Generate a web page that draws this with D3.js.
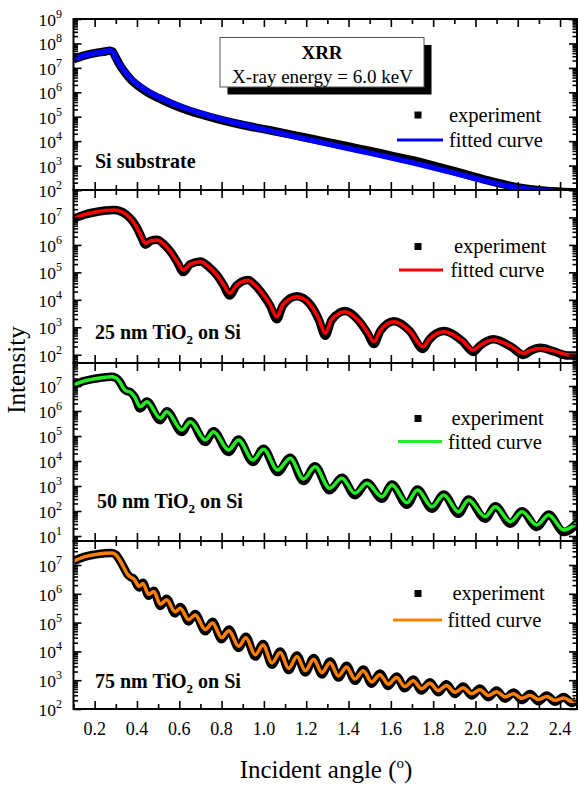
<!DOCTYPE html>
<html><head><meta charset="utf-8">
<script src="https://cdn.jsdelivr.net/npm/d3@7"></script>
<style>body{margin:0;background:#fff}svg{display:block}</style>
</head><body>
<svg id="c" width="578" height="785"></svg>
<script>
// ---------------- data (intensities as log10 exponents) ----------------
const xDomain = [0.1, 2.48];
const xTickLabels = [0.2,0.4,0.6,0.8,1.0,1.2,1.4,1.6,1.8,2.0,2.2,2.4];
const xMinorTicks = [0.1,0.3,0.5,0.7,0.9,1.1,1.3,1.5,1.7,1.9,2.1,2.3];

const siAngle = [0.10,0.15,0.20,0.25,0.27,0.285,0.30,0.32,0.34,0.37,0.40,0.45,0.50,0.60,0.70,0.80,0.90,1.00,1.10,1.20,1.30,1.40,1.50,1.60,1.70,1.80,1.90,2.00,2.10,2.20,2.30,2.40,2.48];
const siFit   = [7.35,7.50,7.60,7.67,7.70,7.66,7.42,7.12,6.88,6.57,6.35,6.05,5.82,5.44,5.15,4.90,4.68,4.48,4.28,4.08,3.89,3.70,3.51,3.32,3.12,2.91,2.69,2.47,2.26,2.09,1.98,1.93,1.90];
const siExp   = [7.35,7.50,7.60,7.67,7.70,7.66,7.42,7.10,6.85,6.53,6.30,6.00,5.77,5.39,5.10,4.86,4.66,4.49,4.32,4.14,3.96,3.78,3.60,3.41,3.22,3.00,2.77,2.53,2.30,2.11,1.99,1.93,1.90];

const t25Angle = [0.10,0.15,0.20,0.25,0.29,0.32,0.35,0.38,0.40,0.42,0.44,0.465,0.495,0.53,0.56,0.59,0.62,0.65,0.70,0.74,0.78,0.81,0.838,0.87,0.925,0.96,1.00,1.03,1.061,1.09,1.156,1.22,1.26,1.29,1.32,1.384,1.45,1.49,1.52,1.55,1.615,1.69,1.752,1.78,1.85,1.94,1.99,2.02,2.085,2.17,2.228,2.26,2.307,2.37,2.44,2.48];
const t25Fit   = [6.95,7.10,7.19,7.25,7.27,7.23,7.10,6.86,6.62,6.32,6.06,6.15,6.18,6.00,5.74,5.40,5.08,5.29,5.39,5.20,4.88,4.55,4.24,4.52,4.70,4.52,4.16,3.82,3.38,3.82,4.11,3.82,3.30,2.78,3.28,3.57,3.22,2.82,2.47,2.88,3.20,2.86,2.29,2.55,2.84,2.50,2.17,2.34,2.54,2.30,2.05,2.16,2.23,2.14,2.00,1.99];
const t25Exp   = [6.95,7.10,7.19,7.25,7.27,7.23,7.10,6.86,6.62,6.30,6.01,6.15,6.19,6.00,5.74,5.38,5.01,5.29,5.40,5.20,4.88,4.52,4.16,4.52,4.72,4.52,4.14,3.78,3.29,3.80,4.13,3.82,3.27,2.69,3.26,3.59,3.22,2.78,2.39,2.86,3.22,2.86,2.21,2.53,2.86,2.48,2.10,2.32,2.56,2.28,1.99,2.14,2.25,2.12,1.97,1.97];

const t50Angle = [0.10,0.15,0.20,0.25,0.28,0.30,0.32,0.336,0.35,0.365,0.39,0.415,0.447,0.51,0.541,0.612,0.652,0.723,0.762,0.833,0.88,0.948,0.998,1.065,1.124,1.187,1.242,1.31,1.369,1.43,1.487,1.558,1.605,1.676,1.726,1.794,1.85,1.92,1.967,2.046,2.094,2.165,2.22,2.29,2.346,2.417,2.487];
const t50Fit   = [7.04,7.20,7.29,7.35,7.37,7.33,7.15,6.91,6.80,6.77,6.55,6.17,6.37,5.71,5.97,5.24,5.57,4.84,5.17,4.44,4.84,4.04,4.47,3.64,4.11,3.28,3.77,2.91,3.31,2.71,3.11,2.57,3.04,2.33,2.84,2.17,2.64,1.97,2.44,1.77,2.17,1.57,1.97,1.44,1.84,1.24,1.57];
const t50Exp   = [7.04,7.20,7.29,7.35,7.37,7.33,7.15,6.91,6.80,6.77,6.55,6.10,6.38,5.63,5.99,5.16,5.59,4.76,5.19,4.36,4.86,3.96,4.49,3.56,4.13,3.20,3.79,2.83,3.33,2.63,3.13,2.49,3.06,2.25,2.86,2.09,2.66,1.89,2.46,1.69,2.19,1.49,1.99,1.36,1.86,1.16,1.57];

const t75Angle = [0.10,0.15,0.20,0.25,0.28,0.30,0.32,0.34,0.355,0.37,0.385,0.41,0.428,0.455,0.48,0.51,0.54,0.58,0.605,0.644,0.675,0.723,0.757,0.80,0.835,0.88,0.915,0.959,0.996,1.038,1.077,1.117,1.156,1.196,1.235,1.274,1.313,1.352,1.391,1.43,1.47,1.509,1.548,1.588,1.627,1.666,1.706,1.745,1.785,1.824,1.863,1.903,1.942,1.982,2.021,2.061,2.10,2.14,2.18,2.219,2.258,2.298,2.337,2.377,2.417,2.456,2.48];
const t75Fit   = [7.13,7.28,7.36,7.41,7.42,7.36,7.15,6.88,6.68,6.58,6.52,6.26,6.36,5.98,6.08,5.64,5.79,5.38,5.50,5.10,5.26,4.76,4.99,4.48,4.72,4.18,4.47,3.88,4.22,3.60,3.96,3.41,3.82,3.33,3.73,3.26,3.61,3.15,3.46,3.04,3.33,2.94,3.19,2.86,3.09,2.78,2.98,2.70,2.89,2.64,2.82,2.58,2.74,2.53,2.67,2.47,2.60,2.42,2.53,2.37,2.48,2.33,2.43,2.30,2.38,2.26,2.30];
const t75Exp   = [7.13,7.28,7.36,7.41,7.42,7.36,7.15,6.88,6.68,6.58,6.52,6.22,6.38,5.93,6.11,5.58,5.83,5.32,5.54,5.04,5.30,4.70,5.03,4.42,4.76,4.12,4.51,3.82,4.26,3.54,4.00,3.35,3.86,3.27,3.77,3.20,3.65,3.09,3.50,2.98,3.37,2.88,3.23,2.80,3.13,2.72,3.02,2.64,2.93,2.58,2.86,2.52,2.78,2.47,2.71,2.41,2.64,2.36,2.57,2.31,2.52,2.27,2.47,2.25,2.42,2.21,2.30];

const panelLabels = [["Si substrate"],["25 nm TiO","2"," on Si"],["50 nm TiO","2"," on Si"],["75 nm TiO","2"," on Si"]];
const fitColors = ["#0000FF","#FF0000","#22EE22","#FF8000"];
const yDomainsLog = [[2,9],[1.699,8],[0.8,7.92],[2,7.833]];
const yLabelExponents = [[2,3,4,5,6,7,8,9],[2,3,4,5,6,7],[1,2,3,4,5,6,7],[2,3,4,5,6,7]];
const legendTexts = ["experiment","fitted curve"];

// ---------------- layout ----------------
const FONT = "'Liberation Serif','Times New Roman',serif";
const left = 73.5, right = 577;
const tops = [19,190,363,541], bottoms = [190,363,541,709];
const labelPos = [[95,168],[95,339],[97,508],[95,688]];
const legendPos = [ // squareY, expTextX, expBase, lineX0, lineX1, lineY, fitTextX, fitBase
  [115,449,121.5,397,443,140,449,147],
  [246.5,454,252.5,399,443,270,450.5,277],
  [418.5,451.5,424.5,398,442,441.5,448,448.5],
  [593.5,452.5,600,393,442,620,447.5,626.5]];

const svg = d3.select("#c");
const x = d3.scaleLinear().domain(xDomain).range([left,right]);
const seriesX = [siAngle,t25Angle,t50Angle,t75Angle];
const seriesFit = [siFit,t25Fit,t50Fit,t75Fit];
const seriesExp = [siExp,t25Exp,t50Exp,t75Exp];

const defs = svg.append("defs");

for (let p = 0; p < 4; p++) {
  const top = tops[p], bot = bottoms[p];
  const y = d3.scaleLog().domain(yDomainsLog[p].map(v => Math.pow(10,v))).range([bot, top]);
  const g = svg.append("g");
  defs.append("clipPath").attr("id","clip"+p).append("rect")
    .attr("x",left).attr("y",top).attr("width",right-left).attr("height",bot-top);

  const expData = seriesX[p].map((a,i)=>[a, seriesExp[p][i]]);
  const fitData = seriesX[p].map((a,i)=>[a, seriesFit[p][i]]);
  const line = d3.line().x(d=>x(d[0])).y(d=>y(Math.pow(10,d[1]))).curve(d3.curveMonotoneX);
  const cg = g.append("g").attr("clip-path","url(#clip"+p+")");
  cg.append("path").datum(expData).attr("d",line).attr("fill","none")
    .attr("stroke","#000").attr("stroke-width",8.5).attr("stroke-linejoin","round");
  cg.append("path").datum(fitData).attr("d",line).attr("fill","none")
    .attr("stroke",fitColors[p]).attr("stroke-width",p===0?5.5:3.5).attr("stroke-linejoin","round");

  // ticks
  const [lo,hi] = yDomainsLog[p];
  const majors = [], minors = [];
  for (let d = Math.floor(lo); d <= Math.ceil(hi); d++) {
    const v = Math.pow(10,d);
    if (d >= lo - 1e-6 && d <= hi + 1e-6) majors.push(v);
    for (let k = 2; k <= 9; k++) { const m = k*v; if (Math.log10(m) > lo && Math.log10(m) < hi) minors.push(m); }
  }
  const styleAxis = sel => { sel.select(".domain").remove(); sel.selectAll("line").attr("stroke","#000").attr("stroke-width",1.6); sel.selectAll("text").remove(); };
  g.append("g").attr("transform",`translate(${left},0)`).call(d3.axisLeft(y).tickValues(majors).tickSize(-8)).call(styleAxis);
  g.append("g").attr("transform",`translate(${left},0)`).call(d3.axisLeft(y).tickValues(minors).tickSize(-4.5)).call(styleAxis);
  g.append("g").attr("transform",`translate(${right},0)`).call(d3.axisRight(y).tickValues(majors).tickSize(-8)).call(styleAxis);
  g.append("g").attr("transform",`translate(${right},0)`).call(d3.axisRight(y).tickValues(minors).tickSize(-4.5)).call(styleAxis);
  g.append("g").attr("transform",`translate(0,${bot})`).call(d3.axisBottom(x).tickValues(xTickLabels).tickSize(-8)).call(styleAxis);
  g.append("g").attr("transform",`translate(0,${bot})`).call(d3.axisBottom(x).tickValues(xMinorTicks).tickSize(-5)).call(styleAxis);
  g.append("g").attr("transform",`translate(0,${top})`).call(d3.axisTop(x).tickValues(xTickLabels).tickSize(-8)).call(styleAxis);
  g.append("g").attr("transform",`translate(0,${top})`).call(d3.axisTop(x).tickValues(xMinorTicks).tickSize(-5)).call(styleAxis);

  // frame
  g.append("rect").attr("x",left).attr("y",top).attr("width",right-left).attr("height",bot-top)
    .attr("fill","none").attr("stroke","#000").attr("stroke-width",2);

  // y labels
  yLabelExponents[p].forEach(e => {
    const t = g.append("text").attr("x",62).attr("y",y(Math.pow(10,e))+7)
      .attr("text-anchor","end").attr("font-family",FONT).attr("font-size",17.5).attr("fill","#000");
    t.append("tspan").text("10");
    t.append("tspan").attr("dy",-8).attr("font-size",12).text(String(e));
  });

  // panel label
  const lab = panelLabels[p];
  const lt = g.append("text").attr("x",labelPos[p][0]).attr("y",labelPos[p][1])
    .attr("font-family",FONT).attr("font-size",20).attr("font-weight","bold").attr("fill","#000");
  lt.append("tspan").text(lab[0]);
  if (lab.length > 1) {
    lt.append("tspan").attr("dy",5).attr("font-size",13).text(lab[1]);
    lt.append("tspan").attr("dy",-5).text(lab[2]);
  }

  // legend
  const L = legendPos[p];
  g.append("rect").attr("x",L[0]===0?0:418-3.5).attr("y",L[0]-3.5).attr("width",7).attr("height",7).attr("fill","#000");
  g.append("text").attr("x",L[1]).attr("y",L[2]).attr("font-family",FONT).attr("font-size",20.5).attr("fill","#000").text(legendTexts[0]);
  g.append("line").attr("x1",L[3]).attr("x2",L[4]).attr("y1",L[5]).attr("y2",L[5]).attr("stroke",fitColors[p]).attr("stroke-width",3);
  g.append("text").attr("x",L[6]).attr("y",L[7]).attr("font-family",FONT).attr("font-size",20.5).attr("fill","#000").text(legendTexts[1]);
}

// x tick labels (bottom panel)
svg.append("g").selectAll("text").data(xTickLabels).join("text")
  .attr("x",d=>x(d)).attr("y",735).attr("text-anchor","middle")
  .attr("font-family",FONT).attr("font-size",18).attr("fill","#000").text(d=>d3.format(".1f")(d));

// title box
svg.append("rect").attr("x",227.5).attr("y",45).attr("width",204).attr("height",49.5).attr("fill","#000");
svg.append("rect").attr("x",220).attr("y",37.5).attr("width",204).attr("height",49.5).attr("fill","#fff").attr("stroke","#555").attr("stroke-width",1);
svg.append("text").attr("x",322).attr("y",58.5).attr("text-anchor","middle").attr("font-family",FONT).attr("font-size",19).attr("font-weight","bold").text("XRR");
svg.append("text").attr("x",322.5).attr("y",82.5).attr("text-anchor","middle").attr("font-family",FONT).attr("font-size",19).text("X-ray energy = 6.0 keV");

// axis titles
const xt = svg.append("text").attr("x",326).attr("y",778).attr("text-anchor","middle").attr("font-family",FONT).attr("font-size",25);
xt.append("tspan").text("Incident angle (");
xt.append("tspan").attr("dy",-10).attr("font-size",15).text("o");
xt.append("tspan").attr("dy",10).text(")");
svg.append("text").attr("transform","translate(25,370) rotate(-90)").attr("text-anchor","middle")
  .attr("font-family",FONT).attr("font-size",25).text("Intensity");
</script>
</body></html>
